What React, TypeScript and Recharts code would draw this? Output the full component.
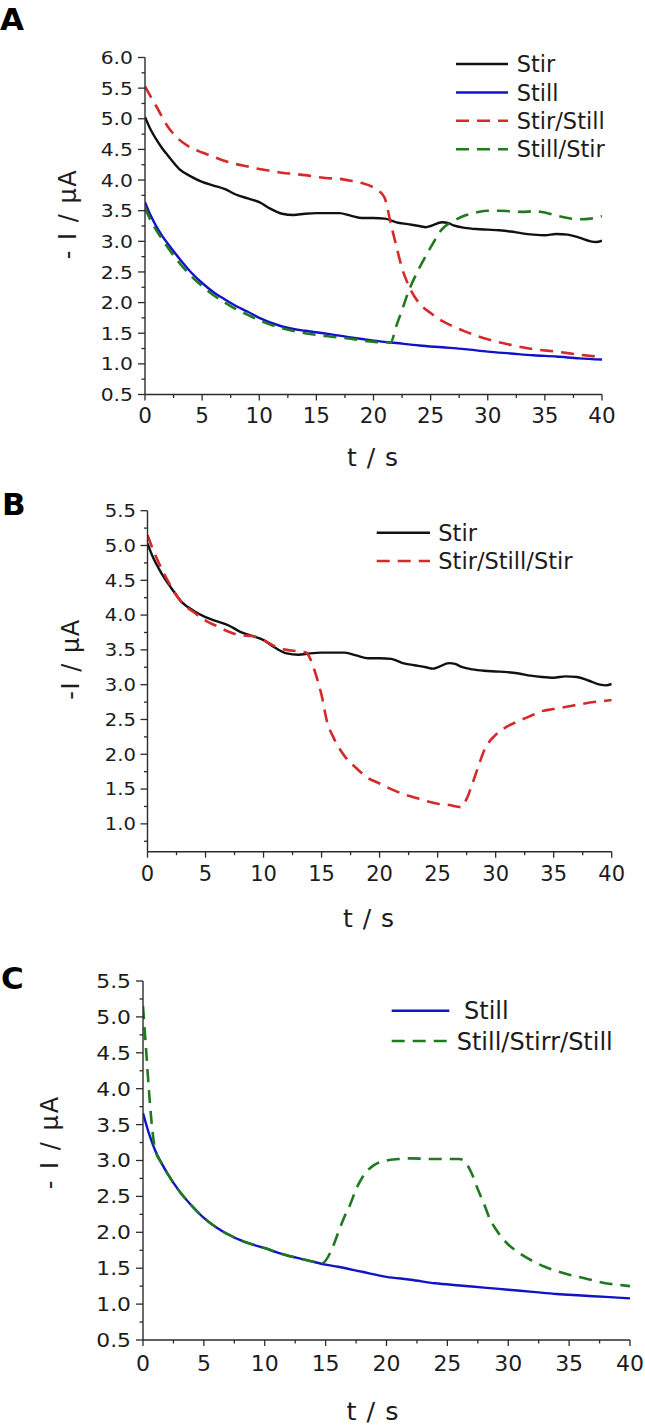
import React from 'react';
import { LineChart, Line, XAxis, YAxis, Legend } from 'recharts';

const FONT = '"DejaVu Sans", Verdana, sans-serif';
const AXIS = '#2b2b2b';
const TEXT = '#1c1c1c';
const BLACK = '#111111';
const BLUE = '#1212c8';
const RED = '#d42a2a';
const GREEN = '#1f7a1f';

// ---------- Data (t in s, -I in µA) ----------
const stirT = [0, 0.5, 1, 1.5, 2, 3, 4, 5, 6, 7, 8, 9, 10, 11, 12, 13, 14, 15, 16, 17, 18, 19, 20, 21, 22, 23, 24, 24.6, 25, 26, 26.5, 27, 28, 29, 30, 31, 32, 33, 34, 35, 36, 37, 38, 39, 39.5, 40];
const stirI = [5.03, 4.82, 4.66, 4.52, 4.40, 4.18, 4.06, 3.97, 3.91, 3.85, 3.76, 3.70, 3.64, 3.53, 3.45, 3.43, 3.45, 3.46, 3.46, 3.46, 3.42, 3.38, 3.38, 3.37, 3.31, 3.28, 3.25, 3.23, 3.25, 3.31, 3.30, 3.26, 3.22, 3.20, 3.19, 3.18, 3.16, 3.13, 3.11, 3.10, 3.12, 3.11, 3.06, 3.00, 2.99, 3.01];

const stillAT = [0, 0.5, 1, 1.5, 2, 3, 4, 5, 6, 7, 8, 9, 10, 12, 14, 16, 18, 20, 22, 24, 26, 28, 30, 32, 34, 36, 38, 40];
const stillAI = [3.64, 3.42, 3.24, 3.09, 2.96, 2.72, 2.50, 2.32, 2.17, 2.05, 1.94, 1.85, 1.75, 1.61, 1.54, 1.49, 1.43, 1.38, 1.34, 1.30, 1.27, 1.24, 1.20, 1.17, 1.14, 1.12, 1.09, 1.07];

const stirStillT = [0, 0.5, 1, 2, 3, 4, 5, 6, 7, 8, 9, 10, 11, 12, 13, 14, 15, 16, 17, 18, 19, 20, 20.5, 21, 21.5, 22, 22.5, 23, 24, 25, 26, 27, 28, 29, 30, 32, 34, 36, 38, 40];
const stirStillI = [5.53, 5.36, 5.20, 4.87, 4.66, 4.53, 4.45, 4.38, 4.31, 4.26, 4.22, 4.18, 4.15, 4.12, 4.10, 4.08, 4.05, 4.03, 4.02, 3.99, 3.95, 3.88, 3.82, 3.70, 3.30, 2.92, 2.56, 2.31, 1.99, 1.83, 1.70, 1.61, 1.53, 1.46, 1.40, 1.31, 1.24, 1.20, 1.15, 1.11];

const stillStirT = [0, 0.5, 1, 2, 3, 4, 5, 6, 7, 8, 9, 10, 12, 14, 16, 18, 20, 21, 21.5, 22, 22.5, 23, 24, 25, 26, 27, 28, 29, 30, 31, 32, 33, 34, 35, 36, 37, 38, 39, 40];
const stillStirI = [3.55, 3.34, 3.18, 2.90, 2.65, 2.44, 2.27, 2.12, 2.00, 1.89, 1.80, 1.71, 1.58, 1.50, 1.45, 1.41, 1.36, 1.35, 1.35, 1.62, 1.88, 2.15, 2.56, 2.90, 3.20, 3.33, 3.42, 3.47, 3.50, 3.50, 3.49, 3.48, 3.49, 3.47, 3.42, 3.38, 3.36, 3.37, 3.41];

const stirStillStirT = [0, 0.5, 1, 1.5, 2, 3, 4, 5, 6, 7, 8, 9, 10, 11, 12, 13, 13.7, 14, 14.5, 15, 15.5, 16, 17, 18, 19, 20, 21, 22, 23, 24, 25, 26, 27, 27.5, 28, 28.5, 29, 30, 31, 32, 33, 34, 35, 36, 37, 38, 39, 40];
const stirStillStirI = [5.15, 4.93, 4.74, 4.57, 4.42, 4.17, 4.04, 3.92, 3.84, 3.76, 3.71, 3.70, 3.64, 3.55, 3.50, 3.48, 3.46, 3.38, 3.15, 2.85, 2.45, 2.25, 1.97, 1.80, 1.66, 1.58, 1.50, 1.43, 1.38, 1.33, 1.29, 1.27, 1.24, 1.36, 1.58, 1.82, 2.05, 2.28, 2.40, 2.48, 2.55, 2.62, 2.65, 2.68, 2.71, 2.74, 2.76, 2.78];

const stillCT = [0, 0.5, 1, 1.5, 2, 3, 4, 5, 6, 7, 8, 9, 10, 11, 12, 13, 14, 15, 16, 18, 20, 22, 24, 26, 28, 30, 32, 34, 36, 38, 40];
const stillCI = [3.66, 3.37, 3.14, 2.97, 2.82, 2.57, 2.37, 2.20, 2.07, 1.97, 1.89, 1.83, 1.78, 1.72, 1.67, 1.63, 1.59, 1.55, 1.52, 1.45, 1.38, 1.34, 1.29, 1.26, 1.23, 1.20, 1.17, 1.14, 1.12, 1.10, 1.08];

const stillStirStillT = [0, 0.25, 0.5, 0.75, 1, 1.5, 2, 3, 4, 5, 6, 7, 8, 9, 10, 11, 12, 13, 14, 14.7, 15.5, 16, 16.5, 17, 17.5, 18, 18.5, 19, 20, 21, 22, 24, 26, 26.5, 27, 27.5, 28, 28.5, 29, 29.5, 30, 31, 32, 33, 34, 35, 36, 37, 38, 39, 40];
const stillStirStillI = [5.15, 4.55, 3.95, 3.45, 3.15, 2.97, 2.82, 2.57, 2.37, 2.20, 2.07, 1.97, 1.89, 1.83, 1.78, 1.72, 1.67, 1.63, 1.59, 1.57, 1.76, 1.98, 2.20, 2.38, 2.60, 2.76, 2.87, 2.94, 3.00, 3.02, 3.03, 3.02, 3.02, 2.97, 2.82, 2.60, 2.40, 2.18, 2.04, 1.92, 1.83, 1.70, 1.60, 1.52, 1.46, 1.41, 1.37, 1.33, 1.29, 1.27, 1.25];

// ---------- Axis ticks ----------
const xMajor = [0, 5, 10, 15, 20, 25, 30, 35, 40];
const xMinor = [2.5, 7.5, 12.5, 17.5, 22.5, 27.5, 32.5, 37.5];
const yMajorA = [0.5, 1.0, 1.5, 2.0, 2.5, 3.0, 3.5, 4.0, 4.5, 5.0, 5.5, 6.0];
const yMinorA = [0.75, 1.25, 1.75, 2.25, 2.75, 3.25, 3.75, 4.25, 4.75, 5.25, 5.75];
const yMajorB = [1.0, 1.5, 2.0, 2.5, 3.0, 3.5, 4.0, 4.5, 5.0, 5.5];
const yMinorB = [0.75, 1.25, 1.75, 2.25, 2.75, 3.25, 3.75, 4.25, 4.75, 5.25];
const yMajorC = [0.5, 1.0, 1.5, 2.0, 2.5, 3.0, 3.5, 4.0, 4.5, 5.0, 5.5];
const yMinorC = [0.75, 1.25, 1.75, 2.25, 2.75, 3.25, 3.75, 4.25, 4.75, 5.25];

type Pt = { t: number; i: number };
const zip = (ts: number[], vs: number[]): Pt[] => ts.map((t, k) => ({ t, i: vs[k] }));

type Series = { name: string; data: Pt[]; color: string; dashed: boolean; textDx?: number };

const isIn = (arr: number[], v: number) => arr.some((m) => Math.abs(m - v) < 1e-6);

const DASH = '13 8';

type PanelProps = {
  top: number;
  height: number;
  plotLeft: number;
  plotRight: number;
  plotTop: number;
  plotBottom: number;
  yDomain: [number, number];
  yMajor: number[];
  yMinor: number[];
  yTickFont: number;
  yTickScale: number;
  yTickGap: number;
  xTickFont: number;
  xTickOffset: number;
  series: Series[];
  legend: { lineX1: number; lineX2: number; textX: number; rowY0: number; rowH: number; fontSize: number };
};

function Panel(p: PanelProps) {
  const W = 645;
  const yAxisW = 60;
  const xAxisH = 30;
  const margin = {
    top: p.plotTop,
    right: W - p.plotRight,
    left: p.plotLeft - yAxisW,
    bottom: p.height - p.plotBottom - xAxisH,
  };
  const yTicks = [...p.yMajor, ...p.yMinor].sort((a, b) => a - b);
  const xTicks = [...xMajor, ...xMinor].sort((a, b) => a - b);

  const renderYTick = (props: any) => {
    const { x, y, payload } = props;
    const v = payload.value as number;
    const major = isIn(p.yMajor, v);
    return (
      <g>
        <line x1={x} x2={x - (major ? 7 : 3.5)} y1={y} y2={y} stroke={AXIS} strokeWidth={1.3} />
        {major && (
          <g transform={`translate(${x - p.yTickGap}, ${y + 0.3645 * p.yTickFont}) scale(${p.yTickScale}, 1)`}>
            <text x={0} y={0} textAnchor="end" fontSize={p.yTickFont} fontFamily={FONT} fill={TEXT}>
              {v.toFixed(1)}
            </text>
          </g>
        )}
      </g>
    );
  };

  const renderXTick = (props: any) => {
    const { x, y, payload } = props;
    const v = payload.value as number;
    const major = isIn(xMajor, v);
    return (
      <g>
        <line x1={x} x2={x} y1={y} y2={y + (major ? 6 : 3.5)} stroke={AXIS} strokeWidth={1.3} />
        {major && (
          <text
            x={x}
            y={y + p.xTickOffset + 0.3645 * p.xTickFont}
            textAnchor="middle"
            fontSize={p.xTickFont}
            fontFamily={FONT}
            fill={TEXT}
          >
            {String(v)}
          </text>
        )}
      </g>
    );
  };

  const lg = p.legend;
  const renderLegend = () => (
    <svg width={W} height={p.height} style={{ display: 'block' }}>
      {p.series.map((s, k) => {
        const cy = lg.rowY0 + k * lg.rowH;
        return (
          <g key={s.name}>
            <line
              x1={lg.lineX1}
              x2={lg.lineX2}
              y1={cy}
              y2={cy}
              stroke={s.color}
              strokeWidth={s.dashed ? 2.6 : 2.5}
              strokeDasharray={s.dashed ? DASH : undefined}
            />
            <text
              x={lg.textX + (s.textDx || 0)}
              y={cy + 0.3645 * lg.fontSize}
              fontSize={lg.fontSize}
              fontFamily={FONT}
              fill={TEXT}
            >
              {s.name}
            </text>
          </g>
        );
      })}
    </svg>
  );

  return (
    <div style={{ position: 'absolute', left: 0, top: p.top, width: W, height: p.height }}>
      <LineChart width={W} height={p.height} margin={margin}>
        <XAxis
          type="number"
          dataKey="t"
          domain={[0, 40]}
          ticks={xTicks}
          interval={0}
          height={xAxisH}
          tickSize={0}
          tickMargin={0}
          tickLine={false}
          allowDataOverflow
          axisLine={{ stroke: AXIS, strokeWidth: 1.4 }}
          tick={renderXTick}
        />
        <YAxis
          type="number"
          domain={p.yDomain}
          ticks={yTicks}
          interval={0}
          width={yAxisW}
          tickSize={0}
          tickMargin={0}
          tickLine={false}
          allowDataOverflow
          axisLine={{ stroke: AXIS, strokeWidth: 1.4 }}
          tick={renderYTick}
        />
        {p.series.map((s) => (
          <Line
            key={s.name}
            data={s.data}
            dataKey="i"
            name={s.name}
            type="monotone"
            stroke={s.color}
            strokeWidth={s.dashed ? 2.6 : 2.4}
            strokeDasharray={s.dashed ? DASH : undefined}
            dot={false}
            activeDot={false}
            isAnimationActive={false}
          />
        ))}
        <Legend
          layout="horizontal"
          verticalAlign="middle"
          align="center"
          content={renderLegend}
          wrapperStyle={{ left: 0, top: 0, width: W, height: p.height, pointerEvents: 'none' }}
        />
      </LineChart>
    </div>
  );
}

export default function App() {
  const seriesA: Series[] = [
    { name: 'Stir', data: zip(stirT, stirI), color: BLACK, dashed: false },
    { name: 'Still', data: zip(stillAT, stillAI), color: BLUE, dashed: false },
    { name: 'Stir/Still', data: zip(stirStillT, stirStillI), color: RED, dashed: true },
    { name: 'Still/Stir', data: zip(stillStirT, stillStirI), color: GREEN, dashed: true },
  ];
  const seriesB: Series[] = [
    { name: 'Stir', data: zip(stirT, stirI), color: BLACK, dashed: false },
    { name: 'Stir/Still/Stir', data: zip(stirStillStirT, stirStillStirI), color: RED, dashed: true },
  ];
  const seriesC: Series[] = [
    { name: 'Still', data: zip(stillCT, stillCI), color: BLUE, dashed: false, textDx: 7.3 },
    { name: 'Still/Stirr/Still', data: zip(stillStirStillT, stillStirStillI), color: GREEN, dashed: true },
  ];

  return (
    <div style={{ position: 'absolute', left: 0, top: 0, width: 645, height: 1425, background: '#fff' }}>
      <Panel
        top={0}
        height={470}
        plotLeft={145}
        plotRight={602}
        plotTop={57.5}
        plotBottom={394.5}
        yDomain={[0.5, 6.0]}
        yMajor={yMajorA}
        yMinor={yMinorA}
        yTickFont={18}
        yTickScale={1.13}
        yTickGap={12}
        xTickFont={21.5}
        xTickOffset={21}
        series={seriesA}
        legend={{ lineX1: 456, lineX2: 508, textX: 516.7, rowY0: 64, rowH: 28.4, fontSize: 22.5 }}
      />
      <Panel
        top={470}
        height={480}
        plotLeft={147.5}
        plotRight={611.7}
        plotTop={40.7}
        plotBottom={381.7}
        yDomain={[0.6, 5.5]}
        yMajor={yMajorB}
        yMinor={yMinorB}
        yTickFont={17.5}
        yTickScale={1.12}
        yTickGap={11.5}
        xTickFont={21}
        xTickOffset={21.3}
        series={seriesB}
        legend={{ lineX1: 376.7, lineX2: 430, textX: 438.3, rowY0: 62.7, rowH: 28.3, fontSize: 22.5 }}
      />
      <Panel
        top={950}
        height={475}
        plotLeft={143}
        plotRight={630}
        plotTop={31}
        plotBottom={390}
        yDomain={[0.5, 5.5]}
        yMajor={yMajorC}
        yMinor={yMinorC}
        yTickFont={19}
        yTickScale={1.15}
        yTickGap={12}
        xTickFont={22}
        xTickOffset={23}
        series={seriesC}
        legend={{ lineX1: 391.7, lineX2: 449.3, textX: 456.7, rowY0: 60.7, rowH: 30.3, fontSize: 24 }}
      />
      <svg
        width={645}
        height={1425}
        style={{ position: 'absolute', left: 0, top: 0, pointerEvents: 'none' }}
      >
        <g fontFamily={FONT} fill="#000">
          <text x={0} y={30} fontSize={31} fontWeight="bold">A</text>
          <text x={2} y={515} fontSize={31} fontWeight="bold">B</text>
          <text x={1} y={989} fontSize={31} fontWeight="bold">C</text>
        </g>
        <g fontFamily={FONT} fill={TEXT}>
          <text x={373} y={466} fontSize={25} letterSpacing={1} textAnchor="middle">t / s</text>
          <text x={369} y={927} fontSize={25} letterSpacing={1} textAnchor="middle">t / s</text>
          <text x={373} y={1420} fontSize={25.5} letterSpacing={1} textAnchor="middle">t / s</text>
          <text transform="translate(76, 214) rotate(-90)" fontSize={24} letterSpacing={1.5} textAnchor="middle">- I / µA</text>
          <text transform="translate(79, 659) rotate(-90)" fontSize={24} letterSpacing={1.5} textAnchor="middle">-I / µA</text>
          <text transform="translate(58, 1142) rotate(-90)" fontSize={24} letterSpacing={2} textAnchor="middle">- I / µA</text>
        </g>
      </svg>
    </div>
  );
}
